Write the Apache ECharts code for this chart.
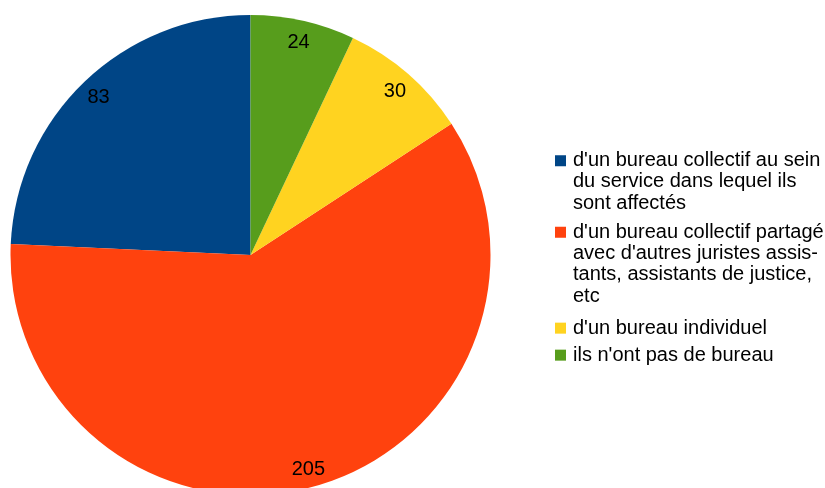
<!DOCTYPE html>
<html>
<head>
<meta charset="utf-8">
<script src="https://cdn.jsdelivr.net/npm/echarts@6/dist/echarts.min.js"></script>
<style>
  html, body { margin: 0; padding: 0; background: #fff; }
  #chart { width: 825px; height: 488px; }
</style>
</head>
<body>
<div id="chart"></div>
<script>
// Répartition des bureaux
const categories = [
  "d'un bureau collectif au sein du service dans lequel ils sont affectés",
  "d'un bureau collectif partagé avec d'autres juristes assistants, assistants de justice, etc",
  "d'un bureau individuel",
  "ils n'ont pas de bureau"
];
// Legend text broken into the lines shown
const legendLines = [
  ["d'un bureau collectif au sein", "du service dans lequel ils", "sont affectés"],
  ["d'un bureau collectif partagé", "avec d'autres juristes assis-", "tants, assistants de justice,", "etc"],
  ["d'un bureau individuel"],
  ["ils n'ont pas de bureau"]
];
const values = [83, 205, 30, 24];
const colors = ['#004586', '#ff420e', '#ffd320', '#579d1c'];

const FONT = '"Liberation Sans", Arial, sans-serif';
const LINE_H = 21.3;
const FONT_SIZE = 20;

const chart = echarts.init(document.getElementById('chart'), null, { renderer: 'canvas' });

const pieData = categories.map((name, i) => ({ name, value: values[i], itemStyle: { color: colors[i] } }));

// square icon aligned to the first text line inside a taller item box
function topSquareIcon(boxH) {
  const y0 = (LINE_H - 11) / 2;
  return 'path://M0,0h11M0,' + y0 + 'h11v11h-11zM0,' + boxH + 'h11';
}

function legendFor(idx, top) {
  const n = legendLines[idx].length;
  const boxH = n * LINE_H;
  return {
    orient: 'vertical',
    left: 555,
    top: top,
    padding: 0,
    itemWidth: 11,
    itemHeight: n > 1 ? boxH : 11,
    icon: n > 1 ? topSquareIcon(boxH) : 'rect',
    itemStyle: { borderWidth: 0 },
    selectedMode: false,
    data: [categories[idx]],
    formatter: () => legendLines[idx].join('\n'),
    textStyle: { fontFamily: FONT, fontSize: FONT_SIZE, color: '#000', lineHeight: LINE_H, padding: [0, 0, 0, 2] }
  };
}

chart.setOption({
  backgroundColor: '#fff',
  animation: false,
  legend: [
    legendFor(0, 150),
    legendFor(1, 221.5),
    legendFor(2, 317.5),
    legendFor(3, 344.5)
  ],
  series: [
    {
      type: 'pie',
      center: [250.5, 255],
      radius: [0, 240],
      startAngle: 90,
      clockwise: false,
      silent: true,
      itemStyle: { borderWidth: 0 },
      label: { show: false },
      labelLine: { show: false },
      data: pieData
    },
    {
      // transparent ring that only carries the value labels
      type: 'pie',
      center: [250.5, 255],
      radius: [194, 240],
      startAngle: 90,
      clockwise: false,
      silent: true,
      itemStyle: { color: 'rgba(0,0,0,0)', borderWidth: 0 },
      label: {
        show: true,
        position: 'inside',
        formatter: '{c}',
        offset: [0, 2],
        fontFamily: FONT,
        fontSize: FONT_SIZE,
        color: '#000'
      },
      labelLine: { show: false },
      data: categories.map((name, i) => ({ name, value: values[i] }))
    }
  ]
});
</script>
</body>
</html>
